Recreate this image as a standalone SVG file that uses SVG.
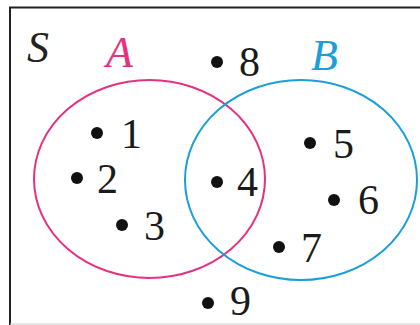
<svg xmlns="http://www.w3.org/2000/svg" width="420" height="325" viewBox="0 0 420 325">
<style>
.num{font-family:"Liberation Serif",serif;font-size:42px;fill:#1a1a1a}
.lbl{font-family:"Liberation Serif",serif;font-size:44px;font-style:italic}
.dot{fill:#111}
</style>
<rect width="420" height="325" fill="#fff"/>
<g id="frame">
<path d="M10,325 V7.5 H420" fill="none" stroke="#222" stroke-width="2"/>
<line x1="10" y1="324" x2="420" y2="324" stroke="#ccc" stroke-width="1"/>
</g>
<g id="labels">
<text class="lbl" x="27" y="62" fill="#222">S</text>
<text class="lbl" x="106" y="67" fill="#e5317f">A</text>
<text class="lbl" x="311" y="70" fill="#1a9fd8">B</text>
</g>
<g id="setA"><ellipse cx="149.5" cy="179" rx="115.5" ry="99" fill="none" stroke="#e5317f" stroke-width="2"/></g>
<g id="setB"><ellipse cx="301" cy="180" rx="116" ry="100" fill="none" stroke="#1a9fd8" stroke-width="2"/></g>
<g id="elements">
<g id="e1"><circle class="dot" cx="97" cy="133" r="6"/><text class="num" x="121" y="148">1</text></g>
<g id="e2"><circle class="dot" cx="77" cy="178" r="6"/><text class="num" x="97" y="193">2</text></g>
<g id="e3"><circle class="dot" cx="122" cy="225" r="6"/><text class="num" x="144" y="240">3</text></g>
<g id="e4"><circle class="dot" cx="217" cy="182" r="6"/><text class="num" x="237" y="196">4</text></g>
<g id="e5"><circle class="dot" cx="310" cy="143" r="6"/><text class="num" x="333" y="158">5</text></g>
<g id="e6"><circle class="dot" cx="334" cy="200" r="6"/><text class="num" x="358" y="214">6</text></g>
<g id="e7"><circle class="dot" cx="279" cy="247" r="6"/><text class="num" x="301" y="262">7</text></g>
<g id="e8"><circle class="dot" cx="217" cy="62" r="6"/><text class="num" x="239" y="76">8</text></g>
<g id="e9"><circle class="dot" cx="208" cy="303" r="6"/><text class="num" x="230" y="315">9</text></g>
</g>
</svg>
